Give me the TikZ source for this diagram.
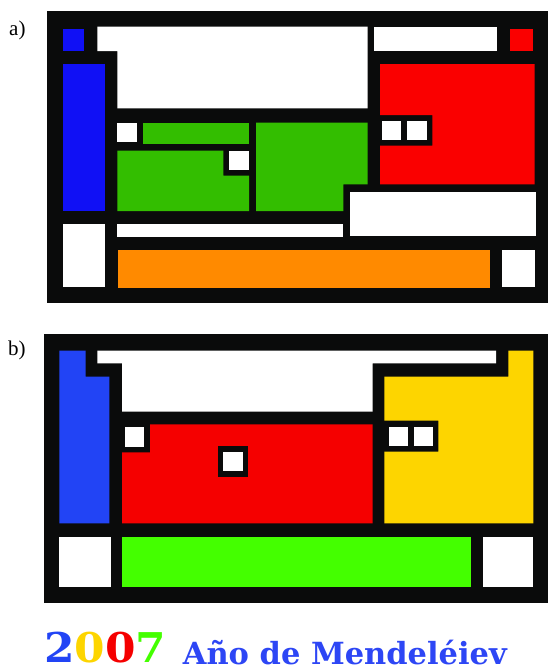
\documentclass[tikz,border=0pt]{standalone}
\usepackage{fontspec}
\setmainfont{Liberation Serif}
\newfontfamily\slabfont{DejaVu Serif}
\definecolor{frameblack}{HTML}{0A0B0B}
\definecolor{ablue}{HTML}{1010F5}
\definecolor{ared}{HTML}{FA0000}
\definecolor{agreen}{HTML}{33BE00}
\definecolor{aorange}{HTML}{FF8A00}
\definecolor{bblue}{HTML}{2244F5}
\definecolor{bred}{HTML}{F50000}
\definecolor{byellow}{HTML}{FDD500}
\definecolor{bgreen}{HTML}{44FF00}
\definecolor{tblue}{HTML}{2D46F5}
\tikzset{
  frame/.style={fill=frameblack},
  cell/.style={fill=#1},
  lbl/.style={font=\fontsize{21}{21}\selectfont, inner sep=0pt, anchor=base west}
}
\begin{document}
\begin{tikzpicture}[x=1pt,y=-1pt]
\useasboundingbox (0,0) rectangle (548,672);
\fill[white] (0,0) rectangle (548,672);
% ---------- a) ----------
\node[lbl] (la) at (9,35) {a)};
\fill[frame] (47,11) rectangle (548,303);
\fill[cell=ablue] (63.3,29.3) rectangle (84.3,51);
\fill[cell=white] (97.3,26.7) -- (367.7,26.7) -- (367.7,108.3) -- (117.3,108.3) -- (117.3,51) -- (97.3,51) -- cycle;
\fill[cell=white] (374.3,26.7) rectangle (496.7,51);
\fill[cell=ared] (510,29.3) rectangle (532.7,51);
\fill[cell=ablue] (63.3,64) rectangle (105,211);
\fill[cell=ared] (380,64) -- (534.7,64) -- (534.7,184.3) -- (380,184.3) -- (380,145.7) -- (432.3,145.7) -- (432.3,115) -- (380,115) -- cycle;
\fill[cell=white] (382.3,120.7) rectangle (401,140);
\fill[cell=white] (406.7,120.7) rectangle (426.7,140);
\fill[cell=white] (117.3,122.7) rectangle (137.3,142.3);
\fill[cell=agreen] (143.3,122.7) rectangle (249,144);
\fill[cell=agreen] (117.3,150.7) -- (223.3,150.7) -- (223.3,175.7) -- (249,175.7) -- (249,211) -- (117.3,211) -- cycle;
\fill[cell=white] (229.3,150.7) rectangle (249,170);
\fill[cell=agreen] (256,122.7) -- (367.7,122.7) -- (367.7,184.3) -- (343.3,184.3) -- (343.3,211) -- (256,211) -- cycle;
\fill[cell=white] (350,192.3) rectangle (536,236);
\fill[cell=white] (117.3,224) rectangle (343.3,237.3);
\fill[cell=white] (63.3,224) rectangle (105,286.7);
\fill[cell=aorange] (118.3,250) rectangle (490,288.3);
\fill[cell=white] (502,250) rectangle (535,286.7);
% ---------- b) ----------
\node[lbl] (lb) at (8,355) {b)};
\fill[frame] (43.5,334) rectangle (548,602.7);
\fill[cell=bblue] (59.3,350.7) -- (85.7,350.7) -- (85.7,376.7) -- (109.3,376.7) -- (109.3,523.3) -- (59.3,523.3) -- cycle;
\fill[cell=white] (97.3,350.7) -- (496,350.7) -- (496,363.3) -- (372.7,363.3) -- (372.7,411.7) -- (122,411.7) -- (122,363.3) -- (97.3,363.3) -- cycle;
\fill[cell=byellow] (384.3,376.7) -- (508.3,376.7) -- (508.3,350.7) -- (533.3,350.7) -- (533.3,523.3) -- (384.3,523.3) -- (384.3,451.7) -- (438.3,451.7) -- (438.3,420.7) -- (384.3,420.7) -- cycle;
\fill[cell=white] (389,426.7) rectangle (408.3,446);
\fill[cell=white] (414.3,426.7) rectangle (433.3,446);
\fill[cell=bred] (150,424.3) -- (372.7,424.3) -- (372.7,523.3) -- (122,523.3) -- (122,452.3) -- (150,452.3) -- cycle;
\fill[cell=white] (125,427.3) rectangle (144.3,446.7);
\fill[frame] (217.7,446) rectangle (248.3,476.7);
\fill[cell=white] (223.3,451.7) rectangle (243.3,470.7);
\fill[cell=white] (59.3,536.7) rectangle (110.7,586.7);
\fill[cell=bgreen] (122,536.7) rectangle (471,586.7);
\fill[cell=white] (483.3,536.7) rectangle (533.3,586.7);
% ---------- caption ----------
\node[inner sep=0pt, anchor=base west, font=\slabfont\bfseries\fontsize{41}{41}\selectfont] (year) at (44,662)
  {\scalebox{1.07}[1]{\textcolor{bblue}{2}\textcolor{byellow}{0}\textcolor{bred}{0}\textcolor{bgreen}{7}}};
\node[inner sep=0pt, anchor=base west, font=\slabfont\bfseries\fontsize{30.5}{30.5}\selectfont, text=tblue] (title) at (182.7,664)
  {Año de Mendeléiev};
\end{tikzpicture}
\end{document}
